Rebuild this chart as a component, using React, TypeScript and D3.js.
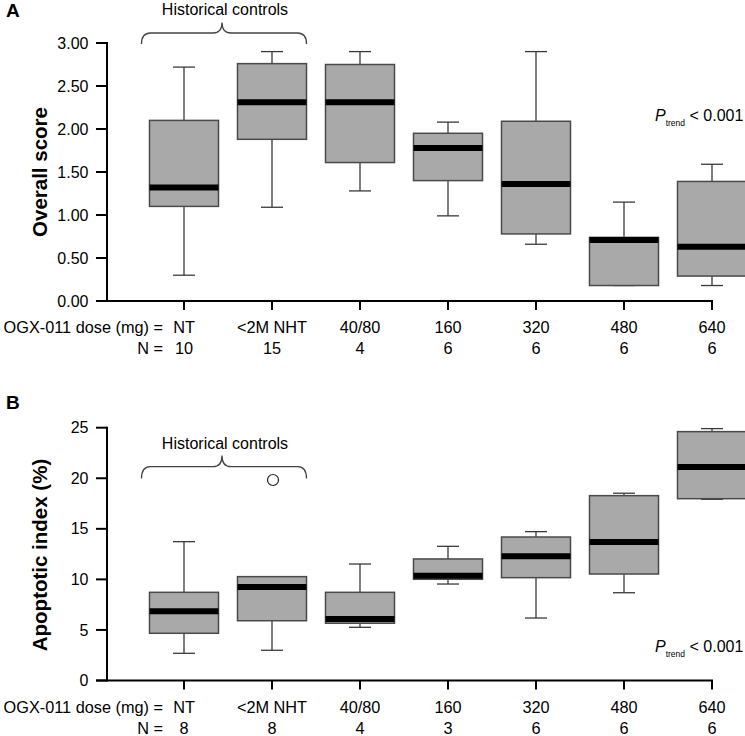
import React from "react";
import * as d3 from "d3";

const categories = ["NT", "<2M NHT", "40/80", "160", "320", "480", "640"];
const nA = ["10", "15", "4", "6", "6", "6", "6"];
const nB = ["8", "8", "4", "3", "6", "6", "6"];

// Panel A (Overall score): whisker low, Q1, median, Q3, whisker high
const scoreLow = [0.30, 1.09, 1.28, 0.99, 0.66, 0.18, 0.18];
const scoreQ1 = [1.10, 1.88, 1.61, 1.40, 0.78, 0.18, 0.29];
const scoreMedian = [1.32, 2.31, 2.31, 1.78, 1.36, 0.71, 0.63];
const scoreQ3 = [2.10, 2.76, 2.75, 1.95, 2.09, 0.74, 1.39];
const scoreHigh = [2.72, 2.90, 2.90, 2.08, 2.90, 1.15, 1.59];

// Panel B (Apoptotic index %)
const apoLow = [2.69, 2.99, 5.26, 9.54, 6.18, 8.68, 17.92];
const apoQ1 = [4.67, 5.91, 5.66, 10.01, 10.17, 10.53, 17.98];
const apoMedian = [6.84, 9.25, 6.08, 10.36, 12.28, 13.70, 21.12];
const apoQ3 = [8.72, 10.27, 8.72, 12.02, 14.19, 18.28, 24.61];
const apoHigh = [13.73, 10.27, 11.52, 13.27, 14.72, 18.52, 24.91];
const apoOutliers = [{ cat: "<2M NHT", value: 19.83 }];

const ticksA = [0, 0.5, 1, 1.5, 2, 2.5, 3];
const ticksB = [0, 5, 10, 15, 20, 25];

const FONT = "'Liberation Sans', Arial, Helvetica, sans-serif";

type PanelProps = {
  letter: string;
  letterY: number;
  title: string;
  titleY: number;
  yDomain: [number, number];
  yRange: [number, number];
  ticks: number[];
  fmt: (v: number) => string;
  low: number[];
  q1: number[];
  med: number[];
  q3: number[];
  high: number[];
  ns: string[];
  outliers: { cat: string; value: number }[];
  braceEndY: number;
  braceH: number;
  braceTip: number;
  histBaseline: number;
  pBaseline: number;
};

function Panel(p: PanelProps) {
  const x = d3.scalePoint<string>().domain(categories).range([184, 712]);
  const y = d3.scaleLinear().domain(p.yDomain).range(p.yRange);
  const axisX = 107;
  const y0 = y(p.yDomain[0]);
  const yTop = y(p.yDomain[1]);
  const halfW = 34.5;
  const cap = 11;
  const x0b = 141.5, x1b = 306.5, xm = 222, r = 9;
  const bracePath = `M${x0b},${p.braceEndY} Q${x0b},${p.braceH} ${x0b + r},${p.braceH} L${xm - r},${p.braceH} Q${xm},${p.braceH} ${xm},${p.braceTip} Q${xm},${p.braceH} ${xm + r},${p.braceH} L${x1b - r},${p.braceH} Q${x1b},${p.braceH} ${x1b},${p.braceEndY}`;
  return (
    <g>
      <text x={6} y={p.letterY} fontSize={19} fontWeight="bold" fontFamily={FONT}>{p.letter}</text>
      <text
        transform={`translate(46.5,${p.titleY}) rotate(-90)`}
        textAnchor="middle"
        fontSize={20.5}
        fontWeight="bold"
        fontFamily={FONT}
      >{p.title}</text>
      {/* y ticks */}
      {p.ticks.map((t) => (
        <g key={t}>
          <line x1={96} x2={axisX} y1={y(t)} y2={y(t)} stroke="#000" strokeWidth={2} />
          <text x={88.5} y={y(t)} dy="0.35em" textAnchor="end" fontSize={16} fontFamily={FONT}>{p.fmt(t)}</text>
        </g>
      ))}
      {/* boxes */}
      {categories.map((c, i) => {
        const cx = x(c)!;
        return (
          <g key={c}>
            <line x1={cx} x2={cx} y1={y(p.high[i])} y2={y(p.q3[i])} stroke="#3a3a3a" strokeWidth={1.3} />
            <line x1={cx} x2={cx} y1={y(p.q1[i])} y2={y(p.low[i])} stroke="#3a3a3a" strokeWidth={1.3} />
            <line x1={cx - cap} x2={cx + cap} y1={y(p.high[i])} y2={y(p.high[i])} stroke="#3a3a3a" strokeWidth={1.3} />
            <line x1={cx - cap} x2={cx + cap} y1={y(p.low[i])} y2={y(p.low[i])} stroke="#3a3a3a" strokeWidth={1.3} />
            <rect x={cx - halfW} y={y(p.q3[i])} width={halfW * 2} height={y(p.q1[i]) - y(p.q3[i])} fill="#a9a9a9" stroke="#4a4a4a" strokeWidth={1.5} />
            <line x1={cx - halfW} x2={cx + halfW} y1={y(p.med[i])} y2={y(p.med[i])} stroke="#000" strokeWidth={6} />
          </g>
        );
      })}
      {p.outliers.map((o, i) => (
        <circle key={i} cx={x(o.cat)! + 1} cy={y(o.value)} r={5.5} fill="#fff" stroke="#222" strokeWidth={1.2} />
      ))}
      {/* axes */}
      <line x1={axisX} x2={axisX} y1={yTop - 1} y2={y0 + 1} stroke="#000" strokeWidth={2} />
      <line x1={96} x2={713} y1={y0} y2={y0} stroke="#000" strokeWidth={2} />
      {categories.map((c) => (
        <line key={c} x1={x(c)!} x2={x(c)!} y1={y0} y2={y0 + 9} stroke="#000" strokeWidth={2} />
      ))}
      <text x={163} y={y0 + 32} textAnchor="end" fontSize={16.3} fontFamily={FONT}>OGX-011 dose (mg) =</text>
      <text x={163} y={y0 + 53} textAnchor="end" fontSize={16.3} fontFamily={FONT}>N =</text>
      {categories.map((c, i) => (
        <g key={c}>
          <text x={x(c)!} y={y0 + 32} textAnchor="middle" fontSize={16.3} fontFamily={FONT}>{c}</text>
          <text x={x(c)!} y={y0 + 53} textAnchor="middle" fontSize={16.3} fontFamily={FONT}>{p.ns[i]}</text>
        </g>
      ))}
      {/* historical controls brace */}
      <path d={bracePath} fill="none" stroke="#444" strokeWidth={1.3} />
      <text x={225} y={p.histBaseline} textAnchor="middle" fontSize={16} fontFamily={FONT}>Historical controls</text>
      {/* P trend */}
      <text x={655} y={p.pBaseline} fontSize={16} fontFamily={FONT}>
        <tspan fontStyle="italic">P</tspan>
        <tspan fontSize={8.5} dy={5}>trend</tspan>
        <tspan dy={-5}> &lt; 0.001</tspan>
      </text>
    </g>
  );
}

export default function App() {
  return (
    <svg
      width={745}
      height={736}
      style={{ position: "absolute", left: 0, top: 0, display: "block", background: "#fff" }}
    >
      <rect width={745} height={736} fill="#fff" />
      <Panel
        letter="A"
        letterY={17}
        title="Overall score"
        titleY={172}
        yDomain={[0, 3]}
        yRange={[301, 43]}
        ticks={ticksA}
        fmt={(v) => d3.format(".2f")(v)}
        low={scoreLow}
        q1={scoreQ1}
        med={scoreMedian}
        q3={scoreQ3}
        high={scoreHigh}
        ns={nA}
        outliers={[]}
        braceEndY={44}
        braceH={33}
        braceTip={22.5}
        histBaseline={14.5}
        pBaseline={121}
      />
      <Panel
        letter="B"
        letterY={409}
        title="Apoptotic index (%)"
        titleY={555}
        yDomain={[0, 25]}
        yRange={[680.5, 427.7]}
        ticks={ticksB}
        fmt={(v) => String(v)}
        low={apoLow}
        q1={apoQ1}
        med={apoMedian}
        q3={apoQ3}
        high={apoHigh}
        ns={nB}
        outliers={apoOutliers}
        braceEndY={478.5}
        braceH={466.7}
        braceTip={455.5}
        histBaseline={448.5}
        pBaseline={652}
      />
    </svg>
  );
}
